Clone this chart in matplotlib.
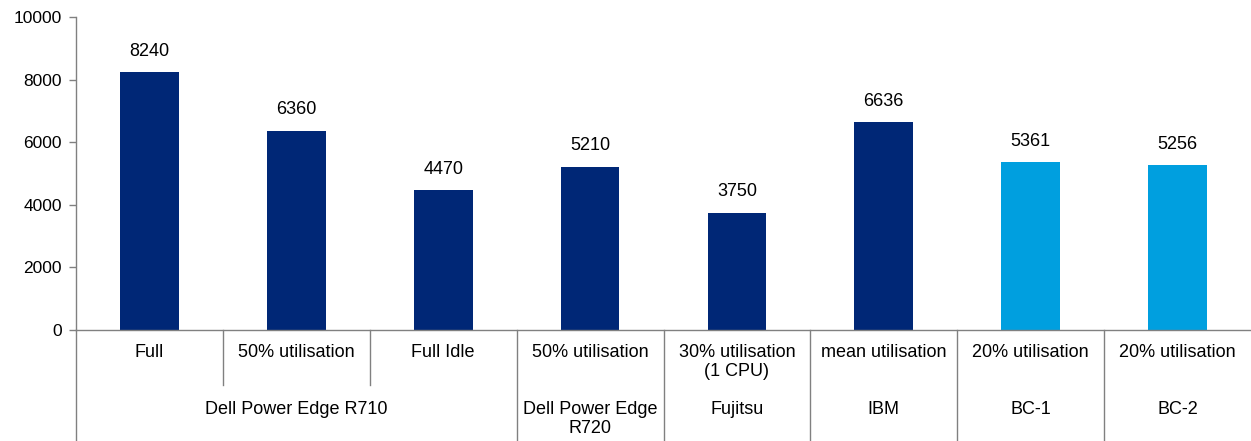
import matplotlib.pyplot as plt

plt.rcParams['font.family'] = ['Liberation Sans', 'DejaVu Sans']

conditions = ["Full", "50% utilisation", "Full Idle", "50% utilisation",
              "30% utilisation\n(1 CPU)", "mean utilisation", "20% utilisation", "20% utilisation"]
values = [8240, 6360, 4470, 5210, 3750, 6636, 5361, 5256]
colors = ["#002776"] * 6 + ["#009FDF"] * 2

groups = ["Dell Power Edge R710", "Dell Power Edge\nR720", "Fujitsu", "IBM", "BC-1", "BC-2"]
group_spans = [(0, 2), (3, 3), (4, 4), (5, 5), (6, 6), (7, 7)]

fig = plt.figure(figsize=(12.51, 4.41), dpi=100)
ax = fig.add_axes([76 / 1251, 111 / 441, 1175 / 1251, 313 / 441])

x = list(range(len(values)))
bars = ax.bar(x, values, width=0.4, color=colors)
ax.bar_label(bars, labels=[str(v) for v in values], padding=9, fontsize=13)

ax.set_xlim(-0.5, len(values) - 0.5)
ax.set_ylim(0, 10000)
ax.set_yticks(range(0, 10001, 2000))
ax.set_xticks([])
ax.tick_params(axis='y', labelsize=12.5, length=5, color="#808080", width=1, pad=5)

for s in ["top", "right"]:
    ax.spines[s].set_visible(False)
for s in ["left", "bottom"]:
    ax.spines[s].set_color("#808080")
    ax.spines[s].set_linewidth(1)

tr = ax.get_xaxis_transform()
grey = "#808080"

# condition labels
for i, lab in enumerate(conditions):
    ax.text(i, -0.045, lab, transform=tr, ha="center", va="top", fontsize=13,
            linespacing=1.15, clip_on=False)

# group labels
for (a, b), g in zip(group_spans, groups):
    ax.text((a + b) / 2, -0.228, g, transform=tr, ha="center", va="top", fontsize=13,
            linespacing=1.15, clip_on=False)

# separators
group_starts = {a for a, b in group_spans}
for i in range(len(values)):
    y_end = -0.36 if i in group_starts else -0.176
    ax.plot([i - 0.5, i - 0.5], [0, y_end], transform=tr, color=grey, lw=1, clip_on=False)

fig.savefig("out.png", dpi=100)
